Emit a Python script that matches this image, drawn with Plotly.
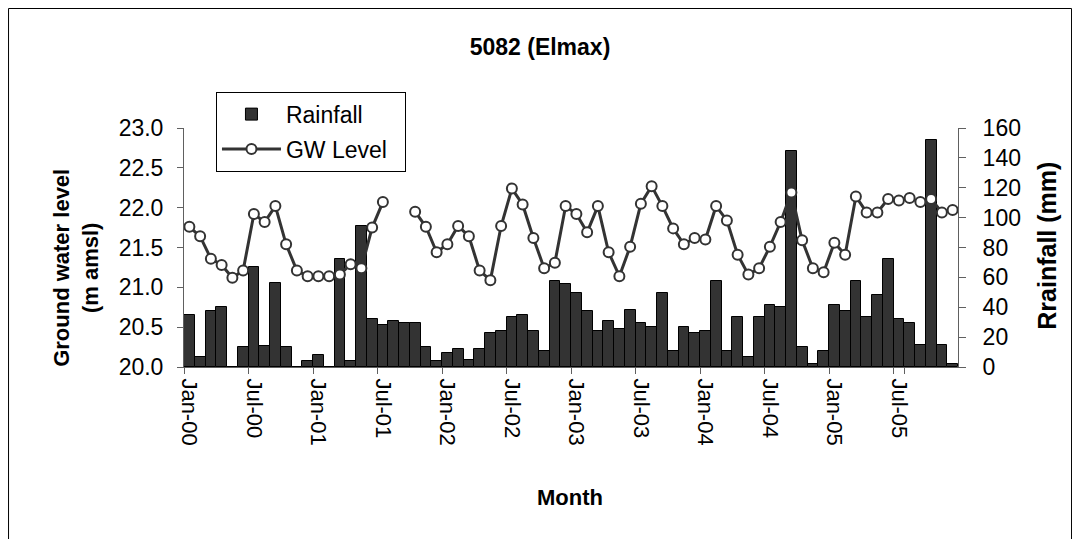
import pandas as pd
import plotly.graph_objects as go

# ---- data -------------------------------------------------------------
months = [d.strftime("%b-%y") for d in pd.date_range("2000-01-01", periods=72, freq="MS")]

rainfall_mm = [
    34.5, 6.4, 37.2, 39.9, 0.0, 13.4, 66.7, 14.3, 56.2, 13.4, 0.0, 4.2,      # 2000
    8.0, 0.0, 72.5, 4.2, 94.6, 32.1, 27.9, 30.5, 29.4, 29.4, 13.4, 4.2,      # 2001
    9.4, 12.0, 4.9, 12.0, 22.7, 24.1, 33.2, 34.5, 24.1, 10.4, 57.3, 55.8,    # 2002
    49.3, 37.2, 24.1, 30.5, 25.4, 38.4, 29.4, 26.8, 49.3, 10.7, 26.8, 22.7,  # 2003
    24.1, 57.3, 10.7, 33.2, 6.4, 33.2, 41.5, 39.9, 144.3, 13.4, 2.2, 10.7,   # 2004
    41.5, 37.2, 57.3, 33.2, 48.2, 72.3, 32.1, 29.4, 14.5, 152.0, 14.5, 2.2,  # 2005
]

gw_level_m = [
    21.76, 21.64, 21.36, 21.28, 21.12, 21.21, 21.92, 21.82, 22.02, 21.54, 21.21, 21.14,  # 2000
    21.14, 21.14, 21.16, 21.29, 21.24, 21.75, 22.07, None, None, 21.95, 21.76, 21.44,    # 2001
    21.54, 21.77, 21.64, 21.21, 21.09, 21.77, 22.24, 22.04, 21.62, 21.24, 21.31, 22.02,  # 2002
    21.92, 21.69, 22.02, 21.44, 21.14, 21.51, 22.05, 22.27, 22.02, 21.74, 21.54, 21.62,  # 2003
    21.60, 22.02, 21.84, 21.41, 21.16, 21.24, 21.51, 21.82, 22.19, 21.59, 21.24, 21.19,  # 2004
    21.56, 21.41, 22.14, 21.94, 21.94, 22.11, 22.09, 22.12, 22.07, 22.11, 21.94, 21.97,  # 2005
]

tick_labels = ["Jan-00", "Jul-00", "Jan-01", "Jul-01", "Jan-02", "Jul-02",
               "Jan-03", "Jul-03", "Jan-04", "Jul-04", "Jan-05", "Jul-05"]

# ---- styling ----------------------------------------------------------
FONT = "Liberation Sans, Arial, sans-serif"
AX = "#606060"

fig = go.Figure()
fig.add_trace(go.Bar(
    x=months, y=rainfall_mm, name="Rainfall", yaxis="y", legendgroup="a",
    marker=dict(color="#333333", line=dict(color="#000000", width=1)),
))
fig.add_trace(go.Scatter(
    x=months, y=gw_level_m, name="GW Level\u00a0\u00a0", yaxis="y2", mode="lines+markers",
    legendgroup="b", connectgaps=False,
    line=dict(color="#333333", width=3),
    marker=dict(symbol="circle", size=10, color="white",
                line=dict(color="#333333", width=2)),
))

fig.update_layout(
    width=1064, height=531,
    paper_bgcolor="white", plot_bgcolor="white",
    margin=dict(l=176, r=114, t=120, b=172, autoexpand=False),
    font=dict(family=FONT, size=20, color="black"),
    bargap=0,
    title=dict(text="5082 (Elmax)", x=0.5, xanchor="center", y=0.9266, yanchor="middle",
               font=dict(family=FONT, size=23, weight="bold")),
    showlegend=True,
    legend=dict(x=0.0413, y=1.152, xanchor="left", yanchor="top",
                bgcolor="white", bordercolor="black", borderwidth=1,
                font=dict(family=FONT, size=23), itemwidth=59,
                tracegroupgap=2, traceorder="grouped"),
    xaxis=dict(
        type="category", categoryorder="array", categoryarray=months,
        range=[-0.5, 71.5], automargin=False,
        tickmode="array", tickvals=tick_labels, ticktext=tick_labels,
        tickson="boundaries", ticks="outside", ticklen=6, tickcolor=AX,
        tickangle=90, tickfont=dict(size=22), ticklabelstandoff=6,
        showline=True, linecolor=AX, linewidth=1, showgrid=False, zeroline=False,
        title=None,
    ),
    yaxis=dict(  # rainfall, right
        side="right", range=[0, 160], dtick=20, tick0=0, automargin=False,
        ticks="outside", ticklen=7, tickcolor=AX, ticklabelstandoff=12,
        showline=True, linecolor=AX, linewidth=1, showgrid=False, zeroline=False,
        tickfont=dict(size=23),
    ),
    yaxis2=dict(  # GW level, left
        overlaying="y", side="left", range=[20, 23], dtick=0.5, tick0=20,
        automargin=False, tickformat=".1f", ticks="outside", ticklen=6,
        tickcolor=AX, ticklabelstandoff=9,
        showline=True, linecolor=AX, linewidth=1, showgrid=False, zeroline=False,
        tickfont=dict(size=23),
    ),
    yaxis3=dict(
        overlaying="y", side="right", range=[0, 160], dtick=20, tick0=0,
        automargin=False, ticks="inside", ticklen=7, tickcolor=AX,
        showticklabels=False, showline=False, showgrid=False, zeroline=False,
    ),
)

fig.add_annotation(text="Ground water level<br>(m amsl)", xref="paper", yref="paper",
                   x=-0.1395, y=0.415, xanchor="center", yanchor="middle",
                   textangle=-90, showarrow=False,
                   font=dict(family=FONT, size=22, weight="bold"))
fig.add_annotation(text="Rrainfall (mm)", xref="paper", yref="paper",
                   x=1.115, y=0.5075, xanchor="center", yanchor="middle",
                   textangle=-90, showarrow=False,
                   font=dict(family=FONT, size=25, weight="bold"))
fig.add_annotation(text="Month", xref="paper", yref="paper",
                   x=0.4987, y=-0.547, xanchor="center", yanchor="middle",
                   showarrow=False,
                   font=dict(family=FONT, size=22, weight="bold"))

# outer chart-area border (figure edge)
fig.add_shape(type="rect", xref="paper", yref="paper",
              x0=-0.2267, x1=1.1467, y0=-0.80, y1=1.5,
              line=dict(color="black", width=1), fillcolor="rgba(0,0,0,0)", layer="below")

fig.write_html("out.html")
